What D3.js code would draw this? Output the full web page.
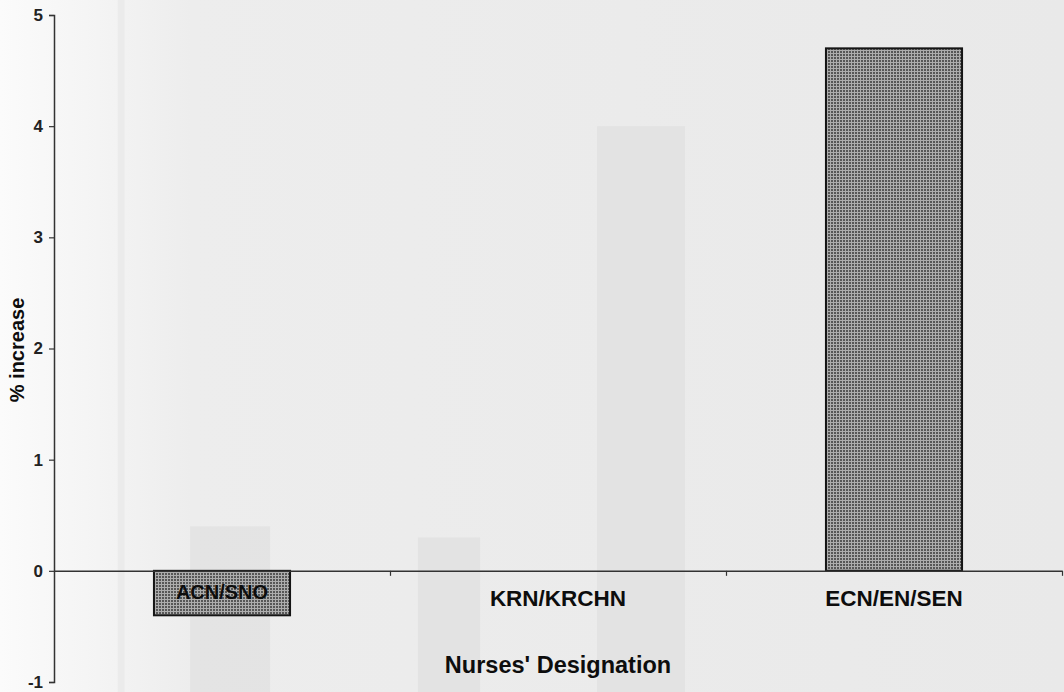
<!DOCTYPE html>
<html>
<head>
<meta charset="utf-8">
<script src="https://cdn.jsdelivr.net/npm/d3@7"></script>
<style>
  body { margin: 0; background: #ebebeb; }
  svg { display: block; font-family: "Liberation Sans", Arial, sans-serif; }
</style>
</head>
<body>
<script>
// chart data
var categories = ["ACN/SNO", "KRN/KRCHN", "ECN/EN/SEN"];
var increase = [-0.4, 0, 4.7];
var yTicks = [-1, 0, 1, 2, 3, 4, 5];

// faint show-through from the reverse page: [start, end] in category units, top value
var ghostStart = [0.19, 0.405, 1.083, 1.616];
var ghostEnd   = [0.21, 0.643, 1.268, 1.878];
var ghostTop   = [5.5, 0.4, 0.3, 4.0];

var W = 1064, H = 692;
var margin = {top: 15, right: 2, bottom: 10, left: 54};

var svg = d3.select("body").append("svg")
    .attr("width", W)
    .attr("height", H);

var defs = svg.append("defs");

// paper: lighter towards the left edge
var grad = defs.append("linearGradient").attr("id", "paper")
    .attr("x1", 0).attr("x2", 1).attr("y1", 0).attr("y2", 0);
grad.append("stop").attr("offset", "0%").attr("stop-color", "#fbfbfb");
grad.append("stop").attr("offset", "8%").attr("stop-color", "#f5f5f5");
grad.append("stop").attr("offset", "18%").attr("stop-color", "#ededed");
grad.append("stop").attr("offset", "100%").attr("stop-color", "#e9e9e9");

// halftone fill of the bars
var pat = defs.append("pattern").attr("id", "dots")
    .attr("patternUnits", "userSpaceOnUse")
    .attr("width", 3).attr("height", 3);
pat.append("rect").attr("width", 3).attr("height", 3).attr("fill", "#adadad");
pat.append("rect").attr("width", 2).attr("height", 2).attr("fill", "#575757");

svg.append("rect").attr("width", W).attr("height", H).attr("fill", "url(#paper)");

var x = d3.scaleBand()
    .domain(categories)
    .range([margin.left, 1062])
    .paddingInner(0)
    .paddingOuter(0);

var xu = d3.scaleLinear()
    .domain([0, categories.length])
    .range(x.range());

var y = d3.scaleLinear()
    .domain([-1, 5])
    .range([682, margin.top]);

// ghost bars (show-through)
svg.append("g").selectAll("rect")
    .data(ghostTop)
    .enter().append("rect")
    .attr("x", function(d, i) { return xu(ghostStart[i]); })
    .attr("width", function(d, i) { return xu(ghostEnd[i]) - xu(ghostStart[i]); })
    .attr("y", function(d) { return y(d); })
    .attr("height", function(d) { return H - y(d); })
    .attr("fill", "#dcdcdc")
    .attr("opacity", function(d, i) { return i === 0 ? 0.3 : 0.55; });

// bars
var bw = x.bandwidth() * 0.405;
svg.append("g").selectAll("rect")
    .data(increase)
    .enter().filter(function(d) { return d !== 0; }).append("rect")
    .attr("x", function(d) { return x(categories[increase.indexOf(d)]) + (x.bandwidth() - bw) / 2; })
    .attr("width", bw)
    .attr("y", function(d) { return y(Math.max(0, d)); })
    .attr("height", function(d) { return Math.abs(y(d) - y(0)); })
    .attr("fill", "url(#dots)")
    .attr("stroke", "#151515")
    .attr("stroke-width", 2);

// y axis
var yAxis = svg.append("g")
    .attr("transform", "translate(" + margin.left + ",0)")
    .call(d3.axisLeft(y).tickValues(yTicks).tickSize(5).tickPadding(6).tickFormat(function(d) { return String(d); }));
yAxis.select(".domain").attr("stroke", "#333").attr("stroke-width", 1.5);
yAxis.selectAll(".tick line").attr("stroke", "#333").attr("stroke-width", 1.2);
yAxis.selectAll(".tick text")
    .attr("font-size", 17)
    .attr("font-weight", "bold")
    .attr("fill", "#222")
    .attr("font-family", "'Liberation Sans', Arial, sans-serif");

// x axis along zero
var xAxis = svg.append("g")
    .attr("transform", "translate(0," + y(0) + ")")
    .call(d3.axisBottom(xu).tickValues(d3.range(1, categories.length + 1)).tickSize(5).tickSizeOuter(0).tickFormat(""));
xAxis.select(".domain").attr("stroke", "#333").attr("stroke-width", 1.5);
xAxis.selectAll(".tick line").attr("stroke", "#333").attr("stroke-width", 1.2);

// category labels
svg.append("g").selectAll("text")
    .data(categories)
    .enter().append("text")
    .attr("x", function(d) { return x(d) + x.bandwidth() / 2; })
    .attr("y", function(d, i) { return i === 0 ? 599 : 606; })
    .attr("text-anchor", "middle")
    .attr("font-size", function(d, i) { return i === 0 ? 20 : 22.5; })
    .attr("font-weight", "bold")
    .attr("fill", "#0d0d0d")
    .text(function(d) { return d; });

// axis titles
svg.append("text")
    .attr("x", x(categories[1]) + x.bandwidth() / 2)
    .attr("y", 673)
    .attr("text-anchor", "middle")
    .attr("font-size", 23.5)
    .attr("font-weight", "bold")
    .attr("fill", "#0d0d0d")
    .text("Nurses' Designation");

svg.append("text")
    .attr("transform", "translate(24," + 350 + ") rotate(-90)")
    .attr("text-anchor", "middle")
    .attr("font-size", 20)
    .attr("font-weight", "bold")
    .attr("fill", "#0d0d0d")
    .text("% increase");
</script>
</body>
</html>
